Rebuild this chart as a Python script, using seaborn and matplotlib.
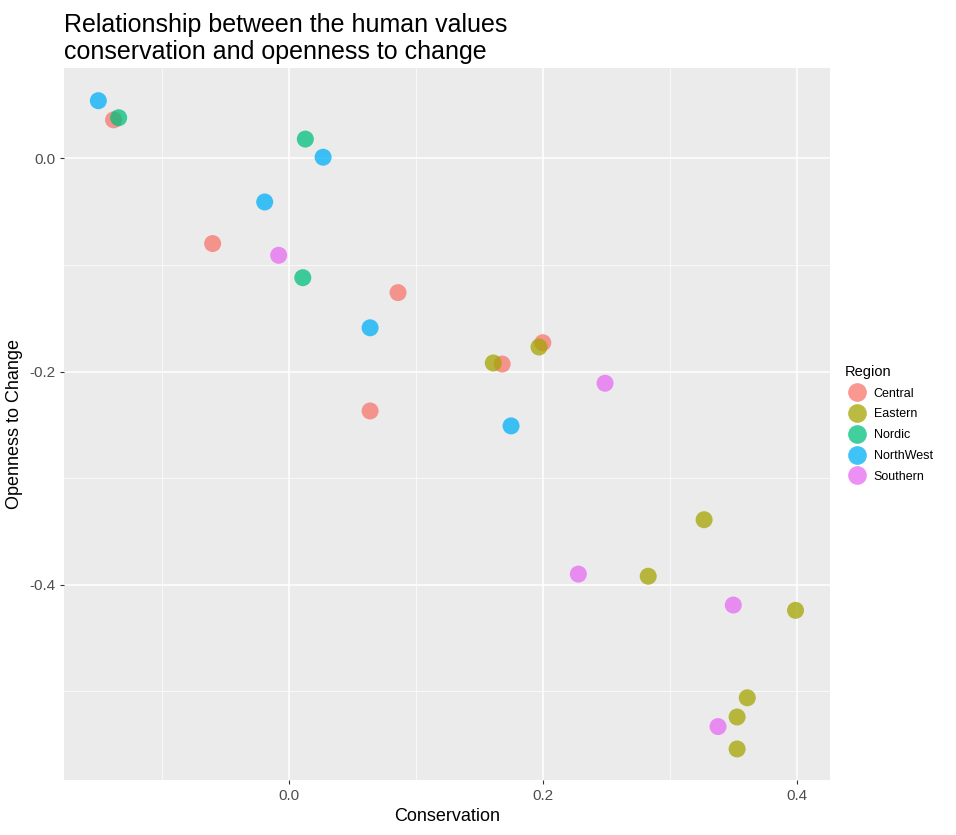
import matplotlib
matplotlib.use("Agg")
import matplotlib.pyplot as plt
from matplotlib.ticker import MultipleLocator
import seaborn as sns
import pandas as pd

# Values
regions = ["Central"] * 6 + ["Eastern"] * 8 + ["Nordic"] * 3 + ["NorthWest"] * 5 + ["Southern"] * 5
conservation = [
    -0.138, -0.060, 0.086, 0.064, 0.168, 0.200,
    0.161, 0.197, 0.327, 0.283, 0.399, 0.361, 0.353, 0.353,
    -0.134, 0.013, 0.011,
    -0.150, 0.027, -0.019, 0.064, 0.175,
    -0.008, 0.249, 0.228, 0.350, 0.338,
]
openness = [
    0.036, -0.080, -0.126, -0.237, -0.193, -0.173,
    -0.192, -0.177, -0.339, -0.392, -0.424, -0.506, -0.524, -0.554,
    0.038, 0.018, -0.112,
    0.054, 0.001, -0.041, -0.159, -0.251,
    -0.091, -0.211, -0.390, -0.419, -0.533,
]
palette = ["#F8766D", "#A3A500", "#00BF7D", "#00B0F6", "#E76BF3"]

df = pd.DataFrame({"Region": regions, "Conservation": conservation, "Openness": openness})

plt.rcParams["font.family"] = ["Liberation Sans", "DejaVu Sans"]

fig = plt.figure(figsize=(9.56, 8.35), dpi=100)
ax = fig.add_axes([0.067, 0.066, 0.801, 0.853])
ax.set_facecolor("#EBEBEB")
for s in ax.spines.values():
    s.set_visible(False)

sns.scatterplot(data=df, x="Conservation", y="Openness", hue="Region", palette=palette,
                s=150, alpha=0.75, edgecolor="none", ax=ax, zorder=3)

ax.set_xlim(-0.177, 0.426)
ax.set_ylim(-0.583, 0.085)
ax.xaxis.set_major_locator(MultipleLocator(0.2))
ax.xaxis.set_minor_locator(MultipleLocator(0.1))
ax.yaxis.set_major_locator(MultipleLocator(0.2))
ax.yaxis.set_minor_locator(MultipleLocator(0.1))
ax.grid(which="major", color="white", linewidth=1.1, zorder=0)
ax.grid(which="minor", color="white", linewidth=0.5, zorder=0)
ax.set_axisbelow(True)
ax.tick_params(which="major", length=3, color="#333333", labelsize=11, labelcolor="#4D4D4D")
ax.tick_params(which="minor", length=0)
ax.xaxis.set_major_formatter(lambda v, p: f"{v:.1f}")
ax.yaxis.set_major_formatter(lambda v, p: f"{v:.1f}")
ax.set_xlabel("Conservation", fontsize=13)
ax.set_ylabel("Openness to Change", fontsize=13)
ax.set_title("Relationship between the human values\nconservation and openness to change",
             loc="left", fontsize=18, x=0.0)

leg = ax.legend(title="Region", loc="center left", bbox_to_anchor=(1.005, 0.5),
                frameon=False, fontsize=9, title_fontsize=10.5, markerscale=1.1,
                handletextpad=0.3, labelspacing=0.7)
leg._legend_box.align = "left"

fig.savefig("out.png", dpi=100)
